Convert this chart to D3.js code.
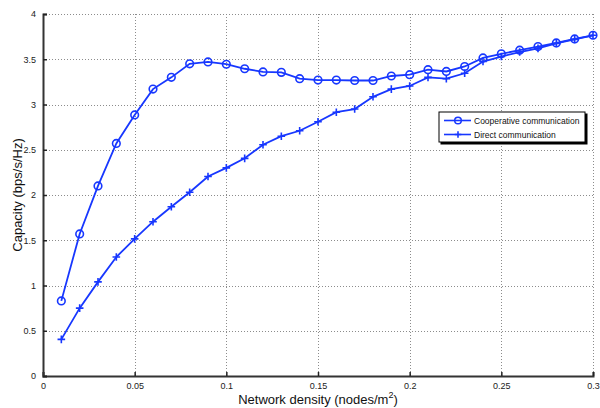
<!DOCTYPE html>
<html>
<head>
<meta charset="utf-8">
<script src="https://cdn.jsdelivr.net/npm/d3@7"></script>
<style>
  body { margin: 0; background: #fff; }
  text { font-family: "Liberation Sans", Arial, sans-serif; }
</style>
</head>
<body>
<div id="vis"></div>
<script>
'use strict';

// network density values (nodes/m^2)
const density = [0.01, 0.02, 0.03, 0.04, 0.05, 0.06, 0.07, 0.08, 0.09, 0.10,
  0.11, 0.12, 0.13, 0.14, 0.15, 0.16, 0.17, 0.18, 0.19, 0.20,
  0.21, 0.22, 0.23, 0.24, 0.25, 0.26, 0.27, 0.28, 0.29, 0.30];

// capacity with cooperative communication
const cooperative = [0.83, 1.57, 2.10, 2.57, 2.885, 3.17, 3.30, 3.45, 3.47, 3.445,
  3.395, 3.36, 3.355, 3.285, 3.27, 3.27, 3.265, 3.265, 3.315, 3.33,
  3.385, 3.365, 3.42, 3.515, 3.56, 3.60, 3.64, 3.68, 3.725, 3.765];

// capacity with direct communication
const direct = [0.405, 0.75, 1.04, 1.315, 1.515, 1.705, 1.87, 2.03, 2.205, 2.30,
  2.405, 2.555, 2.65, 2.71, 2.81, 2.915, 2.95, 3.085, 3.17, 3.205,
  3.30, 3.285, 3.345, 3.475, 3.53, 3.58, 3.62, 3.675, 3.72, 3.765];

const xTicks = [0, 0.05, 0.1, 0.15, 0.2, 0.25, 0.3];
const yTicks = [0, 0.5, 1, 1.5, 2, 2.5, 3, 3.5, 4];
const seriesNames = ["Cooperative communication", "Direct communication"];

const blue = "#1737ff";

var svg = d3.select('#vis').append('svg')
  .attr('width', 600)
  .attr('height', 408);

var margin = {top: 14, right: 7, bottom: 32, left: 43},
  width = 600 - margin.left - margin.right,
  height = 408 - margin.top - margin.bottom;

var x = d3.scaleLinear().domain([0, 0.3]).range([0, width]);
var y = d3.scaleLinear().domain([0, 4]).range([height, 0]);

var g = svg.append('g')
  .attr('transform', 'translate(' + margin.left + ',' + margin.top + ')');

// dotted grid, snapped to whole pixels so the dots stay crisp
var grid = g.append('g').attr('class', 'grid')
  .attr('stroke', '#8c8c8c').attr('stroke-width', 1)
  .attr('stroke-dasharray', '1,2')
  .attr('shape-rendering', 'crispEdges');
grid.selectAll('.gx').data(xTicks.slice(1)).enter().append('line')
  .attr('x1', d => Math.round(x(d)) + 0.5).attr('x2', d => Math.round(x(d)) + 0.5)
  .attr('y1', 0).attr('y2', height);
grid.selectAll('.gy').data(yTicks.slice(1)).enter().append('line')
  .attr('x1', 0).attr('x2', width)
  .attr('y1', d => Math.round(y(d)) + 0.5).attr('y2', d => Math.round(y(d)) + 0.5);

// axes with inward ticks
var xAxis = g.append('g')
  .attr('transform', 'translate(0,' + height + ')')
  .call(d3.axisBottom(x).tickValues(xTicks).tickSize(-4).tickPadding(7)
    .tickFormat(d => d === 0 ? '0' : String(+d.toFixed(2))));
var yAxis = g.append('g')
  .call(d3.axisLeft(y).tickValues(yTicks).tickSize(-4).tickPadding(7)
    .tickFormat(d => String(d)));

[xAxis, yAxis].forEach(function(a) {
  a.select('.domain').attr('stroke', '#333').attr('stroke-width', 2);
  a.selectAll('.tick line').attr('stroke', '#222').attr('stroke-width', 1.5);
  a.selectAll('.tick text').attr('font-size', 9).attr('fill', '#222')
    .style('font-family', '"Liberation Sans", Arial, sans-serif');
});

// data lines
var line = d3.line()
  .x(d => x(d[0]))
  .y(d => y(d[1]));

var coopData = density.map((d, i) => [d, cooperative[i]]);
var directData = density.map((d, i) => [d, direct[i]]);

g.append('path').datum(directData)
  .attr('d', line).attr('fill', 'none')
  .attr('stroke', blue).attr('stroke-width', 1.8);
g.append('path').datum(coopData)
  .attr('d', line).attr('fill', 'none')
  .attr('stroke', blue).attr('stroke-width', 1.8);

// markers
g.selectAll('.circ').data(coopData).enter().append('circle')
  .attr('cx', d => x(d[0])).attr('cy', d => y(d[1]))
  .attr('r', 3.8).attr('fill', 'none')
  .attr('stroke', blue).attr('stroke-width', 1.6);

function plus(sel, s) {
  sel.append('path')
    .attr('d', 'M' + (-s) + ',0H' + s + 'M0,' + (-s) + 'V' + s)
    .attr('stroke', blue).attr('stroke-width', 1.6).attr('fill', 'none');
}
g.selectAll('.plus').data(directData).enter().append('g')
  .attr('transform', d => 'translate(' + x(d[0]) + ',' + y(d[1]) + ')')
  .call(plus, 3.8);

// axis labels
var xl = svg.append('text')
  .attr('x', 318).attr('y', 404)
  .attr('text-anchor', 'middle').attr('font-size', 13).attr('fill', '#111');
xl.append('tspan').text('Network density (nodes/m');
xl.append('tspan').attr('dy', -6).attr('font-size', 9).text('2');
xl.append('tspan').attr('dy', 6).text(')');

svg.append('text')
  .attr('transform', 'translate(22,' + 195 + ') rotate(-90)')
  .attr('text-anchor', 'middle').attr('font-size', 13).attr('fill', '#111')
  .text('Capacity (bps/s/Hz)');

// legend
var lg = svg.append('g').attr('transform', 'translate(439,112)');
lg.append('rect').attr('x', 1.5).attr('y', 1.5).attr('width', 147).attr('height', 31)
  .attr('fill', '#000');
lg.append('rect').attr('x', 0).attr('y', 0).attr('width', 146).attr('height', 30)
  .attr('fill', '#fff').attr('stroke', '#000').attr('stroke-width', 1);

var items = lg.selectAll('.item').data(seriesNames).enter().append('g')
  .attr('transform', (d, i) => 'translate(0,' + (8.5 + i * 14) + ')');
items.append('line').attr('x1', 5).attr('x2', 32).attr('y1', 0).attr('y2', 0)
  .attr('stroke', blue).attr('stroke-width', 1.6);
items.filter((d, i) => i === 0).append('circle')
  .attr('cx', 19).attr('cy', 0).attr('r', 3.3)
  .attr('fill', 'none').attr('stroke', blue).attr('stroke-width', 1.5);
items.filter((d, i) => i === 1).append('g')
  .attr('transform', 'translate(19,0)').call(plus, 3.3);
items.append('text').attr('x', 35).attr('y', 3)
  .attr('font-size', 8.5).attr('fill', '#111').text(d => d);
</script>
</body>
</html>
